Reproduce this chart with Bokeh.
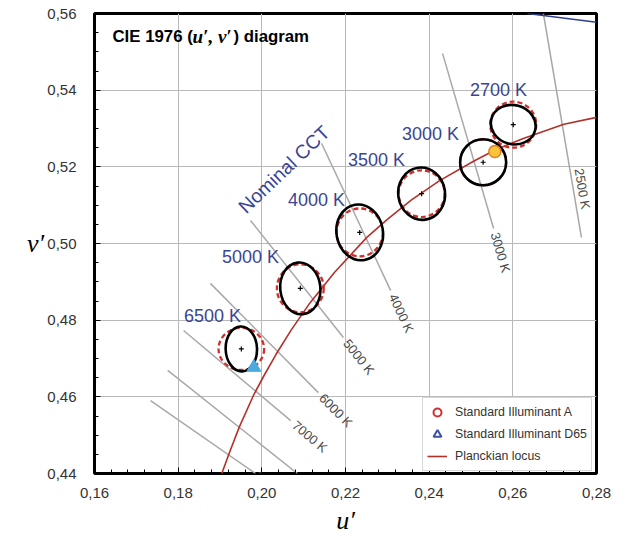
import math
import numpy as np
from bokeh.plotting import figure
from bokeh.models import (FixedTicker, Label, Legend, LegendItem, CustomJSTickFormatter)
from bokeh.core.properties import value
from bokeh.embed import file_html
from bokeh.resources import INLINE

# ---------------- data ----------------
x_ticks = [0.16, 0.18, 0.20, 0.22, 0.24, 0.26, 0.28]
x_tick_labels = ["0,16", "0,18", "0,20", "0,22", "0,24", "0,26", "0,28"]
y_ticks = [0.44, 0.46, 0.48, 0.50, 0.52, 0.54, 0.56]
y_tick_labels = ["0,44", "0,46", "0,48", "0,50", "0,52", "0,54", "0,56"]

# Planckian locus (u', v')
locus_u = [0.1904, 0.1922, 0.1946, 0.1981, 0.2005, 0.2034, 0.2070, 0.2115, 0.2174,
           0.2251, 0.2300, 0.2357, 0.2425, 0.2505, 0.2561, 0.2625, 0.2722, 0.2800]
locus_v = [0.4399, 0.4453, 0.4521, 0.4606, 0.4655, 0.4711, 0.4774, 0.4845, 0.4925,
           0.5016, 0.5063, 0.5113, 0.5164, 0.5214, 0.5246, 0.5274, 0.5311, 0.5329]

# spectrum locus fragment (top right)
spectral_u = [0.2635, 0.2800]
spectral_v = [0.5600, 0.5577]

# isotemperature lines
iso_names = ["2500 K", "3000 K", "4000 K", "5000 K", "6000 K", "7000 K", "8000 K", "10000 K"]
iso_u0 = [0.2673, 0.2432, 0.2143, 0.1973, 0.1877, 0.1813, 0.1775, 0.1734]
iso_v0 = [0.5600, 0.5496, 0.5261, 0.5060, 0.4896, 0.4773, 0.4669, 0.4590]
iso_u1 = [0.2764, 0.2554, 0.2308, 0.2195, 0.2135, 0.2069, 0.2085, 0.1985]
iso_v1 = [0.5016, 0.5039, 0.4877, 0.4755, 0.4611, 0.4538, 0.4400, 0.4400]

# measured (black) ellipses and nominal (red dashed) circles
cct_names = ["2700 K", "3000 K", "3500 K", "4000 K", "5000 K", "6500 K"]
ell_u = [0.2601, 0.2529, 0.2382, 0.2234, 0.2092, 0.1951]
ell_v = [0.5310, 0.5212, 0.5130, 0.5029, 0.4883, 0.4725]
ell_w = [0.0108, 0.0110, 0.0112, 0.0111, 0.0096, 0.0075]
ell_h = [0.0102, 0.0120, 0.0137, 0.0146, 0.0135, 0.0117]
ell_angle = [-15, 0, 8, 10, 6, 2]
nom_w = [0.0110, 0.0110, 0.0110, 0.0111, 0.0112, 0.0109]
nom_h = [0.0120, 0.0120, 0.0122, 0.0125, 0.0125, 0.0110]

# standard illuminants
illA_u, illA_v = [0.2557], [0.5240]
d65_u, d65_v = [0.1981], [0.4677]

# ---------------- geometry helpers (annotation placement only) ----------------
U0, U1, V0, V1 = 0.16, 0.28, 0.44, 0.56
IMG_L, IMG_R, IMG_T, IMG_B = 94, 596, 13, 473
PX_U = (IMG_R - IMG_L) / (U1 - U0)
PX_V = (IMG_B - IMG_T) / (V1 - V0)


def img2data(x, y):
    return U0 + (x - IMG_L) / PX_U, V1 - (y - IMG_T) / PX_V


SANS = "Liberation Sans"
SERIF = "Liberation Serif"
BLUE_TXT = "#3a4592"

p = figure(width=616, height=541, x_range=(U0, U1), y_range=(V0, V1),
           output_backend="svg", toolbar_location=None,
           min_border_left=94, min_border_right=20, min_border_top=13, min_border_bottom=68)
p.background_fill_color = "white"
p.border_fill_color = "white"
p.outline_line_color = "black"
p.outline_line_width = 3

xminor = [round(v, 4) for v in np.arange(0.16, 0.2801, 0.004)]
yminor = [round(v, 4) for v in np.arange(0.44, 0.5601, 0.005)]
p.xaxis.ticker = FixedTicker(ticks=x_ticks, minor_ticks=xminor)
p.yaxis.ticker = FixedTicker(ticks=y_ticks, minor_ticks=yminor)
fmt_code = "const i = tv.findIndex(t => Math.abs(t - tick) < 1e-9); return i >= 0 ? labs[i] : '';"
p.xaxis.formatter = CustomJSTickFormatter(args=dict(tv=x_ticks, labs=x_tick_labels), code=fmt_code)
p.yaxis.formatter = CustomJSTickFormatter(args=dict(tv=y_ticks, labs=y_tick_labels), code=fmt_code)
for ax in (p.xaxis, p.yaxis):
    ax.axis_line_color = None
    ax.major_tick_in = 6
    ax.major_tick_out = 0
    ax.minor_tick_in = 4
    ax.minor_tick_out = 0
    ax.major_tick_line_color = "black"
    ax.minor_tick_line_color = "black"
    ax.major_label_text_font = SANS
    ax.major_label_text_font_size = "15px"
    ax.major_label_text_color = "#333333"
    ax.axis_label_text_font = SERIF
    ax.axis_label_text_font_style = "italic"
    ax.axis_label_text_font_size = "26px"
    ax.axis_label_text_color = "black"
p.xaxis.major_label_standoff = 14
p.yaxis.major_label_standoff = 18
p.xaxis.axis_label = "u\u2032"
p.xaxis.axis_label_standoff = 5
p.yaxis.axis_label = "v\u2032"
p.yaxis.axis_label_standoff = 0
try:
    p.yaxis.axis_label_orientation = "horizontal"
except Exception:
    pass
p.grid.grid_line_color = "#b9b9b9"
p.grid.grid_line_width = 1

# isotemperature lines
p.segment(x0=iso_u0, y0=iso_v0, x1=iso_u1, y1=iso_v1, line_color="#a8a8a8", line_width=1.5)

# isotemperature labels
lab_u, lab_v, lab_a = [], [], []
for i, name in enumerate(iso_names):
    dxp = (iso_u1[i] - iso_u0[i]) * PX_U
    dyp = (iso_v1[i] - iso_v0[i]) * PX_V
    L = math.hypot(dxp, dyp)
    ux, uy = dxp / L, dyp / L
    ang = math.atan2(dyp, dxp)
    if i == 0:
        t = 0.79
        cx = iso_u0[i] * PX_U + t * dxp + 9 * (-uy)
        cy = iso_v0[i] * PX_V + t * dyp + 9 * ux
    else:
        cx = iso_u1[i] * PX_U + 25 * ux
        cy = iso_v1[i] * PX_V + 25 * uy
    lab_u.append(cx / PX_U)
    lab_v.append(cy / PX_V)
    lab_a.append(ang)
p.text(x=lab_u, y=lab_v, text=iso_names, angle=lab_a, text_align="center", text_baseline="middle",
       text_font=value(SANS), text_font_size="13px", text_color="#4a4a4a")

# spectrum locus fragment
p.line(spectral_u, spectral_v, line_color="#2e3f94", line_width=1.5)

# Planckian locus
locus_r = p.line(locus_u, locus_v, line_color="#b3312b", line_width=1.6)

# nominal circles (red dashed)
p.ellipse(x=ell_u, y=ell_v, width=nom_w, height=nom_h, fill_color=None,
          line_color="#d0302c", line_width=2.3, line_dash="5 3")
# measured ellipses (black)
p.ellipse(x=ell_u, y=ell_v, width=ell_w, height=ell_h, angle=ell_angle, angle_units="deg",
          fill_color=None, line_color="black", line_width=2.6)
# center marks
p.scatter(ell_u, ell_v, marker="cross", size=5, line_color="black", line_width=1.2)

# illuminants: legend-style outline markers underneath, filled markers on top
leg_a = p.scatter(illA_u, illA_v, marker="circle", size=9, fill_color=None, line_color="#d0302c", line_width=2)
leg_d = p.scatter(d65_u, d65_v, marker="triangle", size=9, fill_color=None, line_color="#3a52a8", line_width=2)
p.scatter(illA_u, illA_v, marker="circle", size=12, fill_color="#f8c43a", line_color="#ec7a22", line_width=1.5)
p.scatter(d65_u, d65_v, marker="triangle", size=14, fill_color="#4ea9df", line_color="#4ea9df", line_width=1)

# CCT labels
cct_label_px = [(498, 89), (430, 133), (376, 159), (316, 199), (250, 256), (212, 315)]
for name, (x, y) in zip(cct_names, cct_label_px):
    u, v = img2data(x, y)
    p.add_layout(Label(x=u, y=v, text=name, text_align="center", text_baseline="middle",
                       text_font=SANS, text_font_size="18px", text_color=BLUE_TXT))

# Nominal CCT
u, v = img2data(241, 209)
p.add_layout(Label(x=u, y=v, text="Nominal CCT", angle=43.6, angle_units="deg",
                   text_align="left", text_baseline="alphabetic",
                   text_font=SANS, text_font_size="19.5px", text_color=BLUE_TXT))

# title
u, v = img2data(112, 36)
p.add_layout(Label(x=u, y=v, text="CIE 1976 (", text_font=SANS, text_font_size="16.8px",
                   text_font_style="bold", text_color="black", text_baseline="alphabetic"))
u, v = img2data(192, 36)
p.add_layout(Label(x=u, y=v, text="u\u2032, v\u2032", text_font=SERIF, text_font_size="19px",
                   text_font_style="bold italic", text_color="black", text_baseline="alphabetic"))
u, v = img2data(233, 36)
p.add_layout(Label(x=u, y=v, text=") diagram", text_font=SANS, text_font_size="16.8px",
                   text_font_style="bold", text_color="black", text_baseline="alphabetic"))

# legend
legend = Legend(items=[LegendItem(label="Standard Illuminant A", renderers=[leg_a]),
                       LegendItem(label="Standard Illuminant D65", renderers=[leg_d]),
                       LegendItem(label="Planckian locus", renderers=[locus_r])],
                location=(328, 2), padding=4, margin=0, spacing=2,
                glyph_width=20, glyph_height=20, label_standoff=8,
                label_text_font=SANS, label_text_font_size="12.3px", label_text_color="#333333",
                border_line_color="#b0b0b0", border_line_width=1, background_fill_alpha=1)
p.add_layout(legend)

open("out.html", "w").write(file_html(p, INLINE))
